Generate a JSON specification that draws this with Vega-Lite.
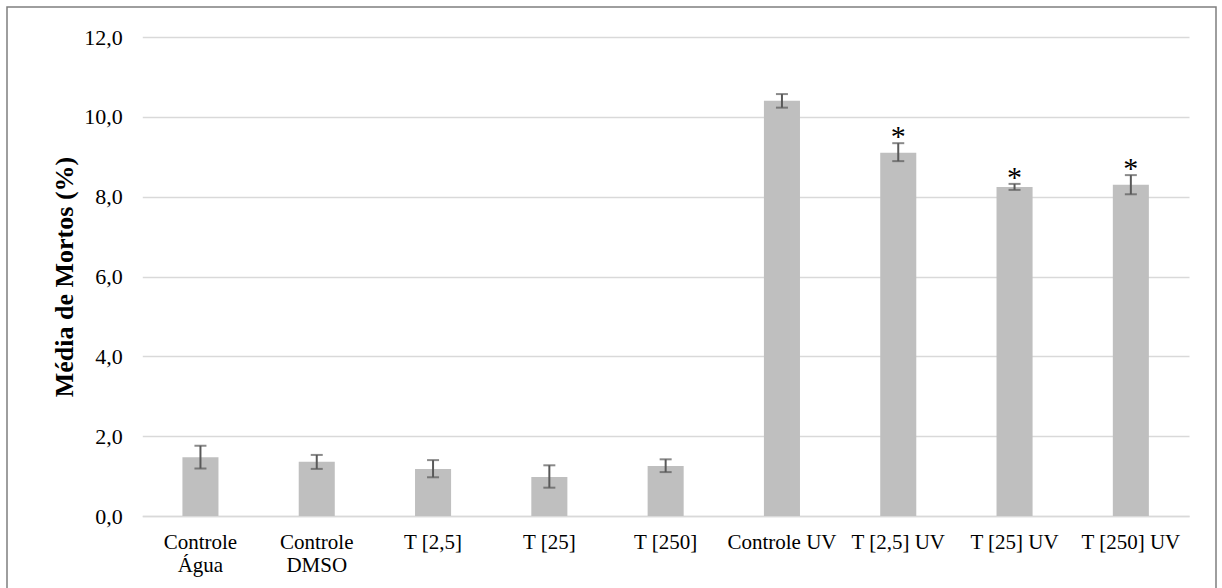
{
  "$schema": "https://vega.github.io/schema/vega-lite/v6.json",
  "width": 1209,
  "height": 585,
  "autosize": "none",
  "padding": {"left": 7, "top": 7, "right": 6, "bottom": 0},
  "background": "white",
  "config": {
    "view": {"stroke": "#7f7f7f", "strokeWidth": 1.5},
    "font": "'Liberation Serif', 'Times New Roman', serif"
  },
  "data": {
    "values": [
      {"group": "Controle Água", "mean": 1.47, "lo": 1.19, "hi": 1.76, "sig": ""},
      {"group": "Controle DMSO", "mean": 1.36, "lo": 1.18, "hi": 1.53, "sig": ""},
      {"group": "T [2,5]", "mean": 1.18, "lo": 0.97, "hi": 1.40, "sig": ""},
      {"group": "T [25]", "mean": 0.98, "lo": 0.71, "hi": 1.27, "sig": ""},
      {"group": "T [250]", "mean": 1.25, "lo": 1.10, "hi": 1.42, "sig": ""},
      {"group": "Controle UV", "mean": 10.40, "lo": 10.23, "hi": 10.57, "sig": ""},
      {"group": "T [2,5] UV", "mean": 9.10, "lo": 8.89, "hi": 9.34, "sig": "*"},
      {"group": "T [25] UV", "mean": 8.24, "lo": 8.17, "hi": 8.32, "sig": "*"},
      {"group": "T [250] UV", "mean": 8.30, "lo": 8.06, "hi": 8.54, "sig": "*"}
    ]
  },
  "encoding": {
    "x": {
      "field": "group",
      "type": "nominal",
      "sort": null,
      "scale": {"range": [135.3, 1182], "paddingInner": 0.69, "paddingOuter": 0.345},
      "axis": {
        "title": null,
        "offset": -76,
        "labelAngle": 0,
        "labelFont": "'Liberation Serif', 'Times New Roman', serif",
        "labelFontSize": 21,
        "labelColor": "#000000",
        "labelPadding": 15,
        "labelBaseline": "top",
        "labelLineHeight": 23,
        "labelOverlap": false,
        "labelLimit": 300,
        "ticks": false,
        "domainColor": "#d9d9d9",
        "domainWidth": 1.5,
        "labelExpr": "datum.label == 'Controle Água' ? ['Controle', 'Água'] : datum.label == 'Controle DMSO' ? ['Controle', 'DMSO'] : datum.label"
      }
    }
  },
  "layer": [
    {
      "mark": {"type": "bar", "color": "#bfbfbf"},
      "encoding": {
        "y": {
          "field": "mean",
          "type": "quantitative",
          "title": "Média de Mortos (%)",
          "scale": {"domain": [0, 12], "range": [509, 30], "nice": false},
          "axis": {
            "offset": -135.3,
            "values": [0, 2, 4, 6, 8, 10, 12],
            "labelExpr": "replace(format(datum.value, '.1f'), '.', ',')",
            "labelFont": "'Liberation Serif', 'Times New Roman', serif",
            "labelFontSize": 22,
            "labelColor": "#000000",
            "labelPadding": 20,
            "ticks": false,
            "domain": false,
            "grid": true,
            "gridColor": "#d9d9d9",
            "gridWidth": 1.5,
            "titleFont": "'Liberation Serif', 'Times New Roman', serif",
            "titleFontSize": 26,
            "titleFontWeight": "bold",
            "titleColor": "#000000",
            "titlePadding": 6
          }
        }
      }
    },
    {
      "mark": {"type": "rule", "color": "#595959", "strokeWidth": 2},
      "encoding": {
        "y": {"field": "lo", "type": "quantitative", "title": "Média de Mortos (%)"},
        "y2": {"field": "hi"}
      }
    },
    {
      "mark": {"type": "tick", "color": "#595959", "size": 12, "thickness": 2},
      "encoding": {
        "y": {"field": "lo", "type": "quantitative", "title": "Média de Mortos (%)"}
      }
    },
    {
      "mark": {"type": "tick", "color": "#595959", "size": 12, "thickness": 2},
      "encoding": {
        "y": {"field": "hi", "type": "quantitative", "title": "Média de Mortos (%)"}
      }
    },
    {
      "transform": [{"filter": "datum.sig == '*'"}],
      "mark": {"type": "text", "font": "'Liberation Serif', 'Times New Roman', serif", "fontSize": 30, "baseline": "alphabetic", "dy": 3, "color": "#000000"},
      "encoding": {
        "y": {"field": "hi", "type": "quantitative", "title": "Média de Mortos (%)"},
        "text": {"field": "sig"}
      }
    }
  ]
}
